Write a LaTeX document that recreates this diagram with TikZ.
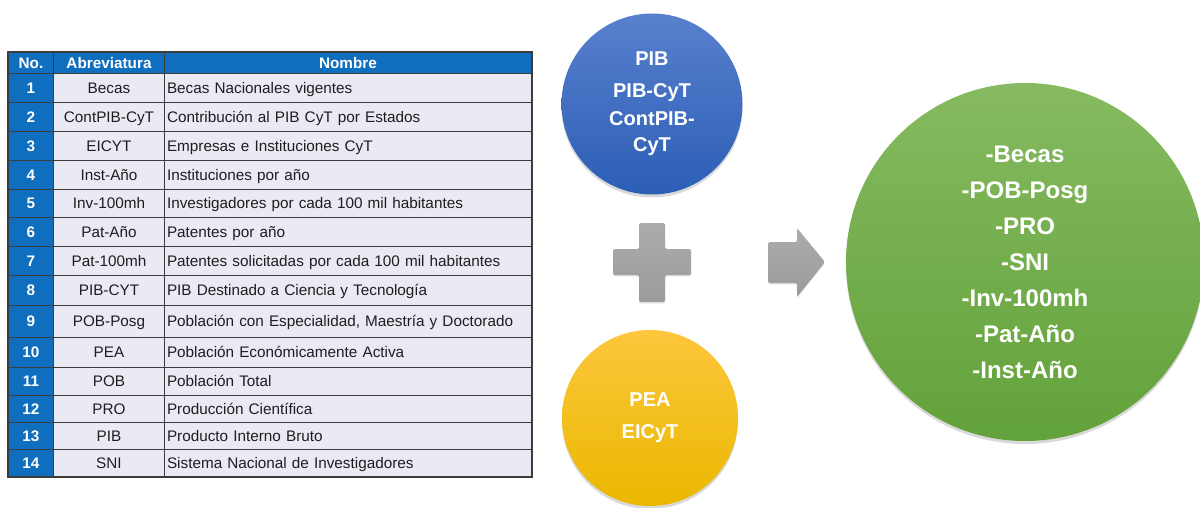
\documentclass[tikz,border=0pt]{standalone}
\usepackage{fontspec}
\setmainfont{Liberation Sans}
\usetikzlibrary{shadows}
\definecolor{tblue}{RGB}{16,110,190}
\definecolor{tcell}{RGB}{233,234,243}
\definecolor{tline}{RGB}{60,60,60}
\definecolor{ttext}{RGB}{30,30,30}
\definecolor{blueTop}{RGB}{88,128,205}
\definecolor{blueBot}{RGB}{44,94,182}
\definecolor{yelTop}{RGB}{253,198,60}
\definecolor{yelBot}{RGB}{234,184,0}
\definecolor{grnTop}{RGB}{134,186,96}
\definecolor{grnBot}{RGB}{98,162,58}
\definecolor{grayTop}{RGB}{172,172,172}
\definecolor{grayBot}{RGB}{155,155,155}
\begin{document}
\begin{tikzpicture}[x=1pt,y=-1pt,
  cell/.style={draw=tline, line width=1pt, inner sep=0pt, anchor=north west,
    text height=10.6pt, text depth=0pt, font=\fontsize{15.3}{17}\selectfont},
  hdr/.style={cell, fill=tblue, text=white, font=\fontsize{15.3}{17}\selectfont\bfseries, minimum height=21},
  numc/.style={cell, fill=tblue, text=white, font=\fontsize{15.3}{17}\selectfont\bfseries, minimum width=45},
  abc/.style={cell, fill=tcell, text=ttext, minimum width=111},
  namc/.style={cell, fill=tcell, text=ttext, minimum width=367, text width=362, inner xsep=2.5pt, align=left},
  bubble/.style={circle, inner sep=0pt, text=white, align=center,
    drop shadow={opacity=0.3, shadow xshift=0pt, shadow yshift=-3pt}},
  gshape/.style={top color=grayTop, bottom color=grayBot, draw=none, rounded corners=1.5pt,
    drop shadow={opacity=0.2, shadow xshift=0pt, shadow yshift=-1.5pt}}
]
\useasboundingbox (0,0) rectangle (1200,508);

% header
\node[hdr, minimum width=45] (h1) at (8,52) {No.};
\node[hdr, minimum width=111] (h2) at (53,52) {Abreviatura};
\node[hdr, minimum width=367] (h3) at (164,52) {Nombre};

% rows
\node[numc, minimum height=29] (n1) at (8,73) {1};
\node[abc, minimum height=29] (a1) at (53,73) {Becas};
\node[namc, minimum height=29] (m1) at (164,73) {Becas Nacionales vigentes};

\node[numc, minimum height=29] (n2) at (8,102) {2};
\node[abc, minimum height=29] (a2) at (53,102) {ContPIB-CyT};
\node[namc, minimum height=29] (m2) at (164,102) {Contribución al PIB CyT por Estados};

\node[numc, minimum height=29] (n3) at (8,131) {3};
\node[abc, minimum height=29] (a3) at (53,131) {EICYT};
\node[namc, minimum height=29] (m3) at (164,131) {Empresas e Instituciones CyT};

\node[numc, minimum height=29] (n4) at (8,160) {4};
\node[abc, minimum height=29] (a4) at (53,160) {Inst-Año};
\node[namc, minimum height=29] (m4) at (164,160) {Instituciones por año};

\node[numc, minimum height=28] (n5) at (8,189) {5};
\node[abc, minimum height=28] (a5) at (53,189) {Inv-100mh};
\node[namc, minimum height=28] (m5) at (164,189) {Investigadores por cada 100 mil habitantes};

\node[numc, minimum height=29] (n6) at (8,217) {6};
\node[abc, minimum height=29] (a6) at (53,217) {Pat-Año};
\node[namc, minimum height=29] (m6) at (164,217) {Patentes por año};

\node[numc, minimum height=29] (n7) at (8,246) {7};
\node[abc, minimum height=29] (a7) at (53,246) {Pat-100mh};
\node[namc, minimum height=29] (m7) at (164,246) {Patentes solicitadas por cada 100 mil habitantes};

\node[numc, minimum height=30] (n8) at (8,275) {8};
\node[abc, minimum height=30] (a8) at (53,275) {PIB-CYT};
\node[namc, minimum height=30] (m8) at (164,275) {PIB Destinado a Ciencia y Tecnología};

\node[numc, minimum height=32] (n9) at (8,305) {9};
\node[abc, minimum height=32] (a9) at (53,305) {POB-Posg};
\node[namc, minimum height=32] (m9) at (164,305) {Población con Especialidad, Maestría y Doctorado};

\node[numc, minimum height=30] (n10) at (8,337) {10};
\node[abc, minimum height=30] (a10) at (53,337) {PEA};
\node[namc, minimum height=30] (m10) at (164,337) {Población Económicamente Activa};

\node[numc, minimum height=28] (n11) at (8,367) {11};
\node[abc, minimum height=28] (a11) at (53,367) {POB};
\node[namc, minimum height=28] (m11) at (164,367) {Población Total};

\node[numc, minimum height=27] (n12) at (8,395) {12};
\node[abc, minimum height=27] (a12) at (53,395) {PRO};
\node[namc, minimum height=27] (m12) at (164,395) {Producción Científica};

\node[numc, minimum height=27] (n13) at (8,422) {13};
\node[abc, minimum height=27] (a13) at (53,422) {PIB};
\node[namc, minimum height=27] (m13) at (164,422) {Producto Interno Bruto};

\node[numc, minimum height=27] (n14) at (8,449) {14};
\node[abc, minimum height=27] (a14) at (53,449) {SNI};
\node[namc, minimum height=27] (m14) at (164,449) {Sistema Nacional de Investigadores};

\draw[tline, line width=1.6pt] (h1.north west) rectangle (m14.south east);

% circles
\node[bubble, minimum size=181, top color=blueTop, bottom color=blueBot,
  font=\fontsize{20}{26}\selectfont\bfseries] (blue) at (652,104)
  {PIB\\[6pt]PIB-CyT\\[2pt]ContPIB-\\CyT};

\node[bubble, minimum size=176, top color=yelTop, bottom color=yelBot,
  font=\fontsize{20}{32}\selectfont\bfseries] (yellow) at (650,418)
  {PEA\\EICyT};

\node[bubble, minimum size=358, top color=grnTop, bottom color=grnBot,
  font=\fontsize{24}{36}\selectfont\bfseries] (green) at (1025,262)
  {-Becas\\-POB-Posg\\-PRO\\-SNI\\-Inv-100mh\\-Pat-Año\\-Inst-Año};

% plus sign
\path[gshape] (639,223) -- (665,223) -- (665,249) -- (691,249) -- (691,275) -- (665,275)
  -- (665,302) -- (639,302) -- (639,275) -- (613,275) -- (613,249) -- (639,249) -- cycle;

% arrow
\path[gshape] (768,242) -- (797,242) -- (797,228) -- (825,262) -- (797,297) -- (797,283)
  -- (768,283) -- cycle;
\end{tikzpicture}
\end{document}
